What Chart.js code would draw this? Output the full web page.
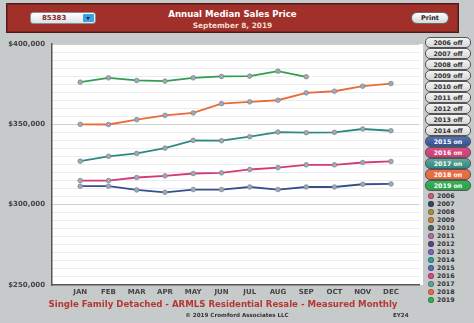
<!DOCTYPE html>
<html><head><meta charset="utf-8">
<script src="https://cdn.jsdelivr.net/npm/chart.js@4.4.0/dist/chart.umd.min.js"></script>
<style>
html,body{margin:0;padding:0;}
body{width:474px;height:323px;background:#c6cacb;position:relative;overflow:hidden;font-family:"DejaVu Sans",Verdana,sans-serif;}
#hdr{position:absolute;left:6px;top:3px;width:451px;height:28px;background:#a2302a;border:1px solid #4d1c18;box-shadow:inset 0 0 0 1px #7a2520;}
#t1{position:absolute;left:0;right:0;top:5px;text-align:center;color:#fff;font-weight:bold;font-size:8.6px;}
#t2{position:absolute;left:0;right:0;top:17px;text-align:center;color:#f6dcd4;font-weight:bold;font-size:7.4px;}
#sel{position:absolute;left:23px;top:8px;width:64px;height:10px;border-radius:3px;background:linear-gradient(#ffffff,#dde3ea);border:1px solid #8a8f96;}
#sel span{position:absolute;left:11px;top:0px;font-size:7px;font-weight:bold;color:#8b2a2a;line-height:10px;}
#arr{position:absolute;right:1px;top:1px;width:11px;height:8px;background:#3da0e0;border-radius:1px;}
#arr:after{content:"";position:absolute;left:3px;top:3px;border-left:2.5px solid transparent;border-right:2.5px solid transparent;border-top:3px solid #1a2a50;}
#prt{position:absolute;left:404px;top:8px;width:36px;height:10px;border-radius:6px;background:linear-gradient(#ffffff,#d8d8d8);border:1px solid #6a6a6a;text-align:center;font-size:6.5px;font-weight:bold;line-height:10px;color:#222;}
#plotbg{position:absolute;left:52px;top:44px;width:371px;height:241px;background:#fff;}
#cv{position:absolute;left:0;top:0;}
.btn{position:absolute;left:425px;width:44px;height:9px;border-radius:5px;border:1px solid #555;font-size:6.3px;font-weight:bold;line-height:9px;text-align:center;box-sizing:content-box;}
.off{background:linear-gradient(#f4f4f4,#d6d6d6);color:#333;}
.on{color:#fff;}
.yr{position:absolute;left:428px;font-size:6.3px;font-weight:bold;color:#333;line-height:8px;}
.yr i{display:inline-block;width:6px;height:6px;border-radius:50%;vertical-align:-1px;margin-right:3px;box-shadow:inset 0 0 0 1px rgba(0,0,0,0.25);}
#foot{position:absolute;left:0;width:446px;top:299px;text-align:center;color:#b5372e;font-weight:bold;font-size:8.6px;}
#copy{position:absolute;left:0;width:474px;top:312px;text-align:center;color:#333;font-weight:bold;font-size:5.6px;}
#ey{position:absolute;left:393px;top:312px;color:#333;font-weight:bold;font-size:5.6px;}
</style></head>
<body>
<div id="hdr">
  <div id="sel"><span>85383</span><div id="arr"></div></div>
  <div id="t1">Annual Median Sales Price</div>
  <div id="t2">September 8, 2019</div>
  <div id="prt">Print</div>
</div>
<div id="plotbg"></div>
<canvas id="cv" width="424" height="300"></canvas>
<div id="legend"></div>
<div id="foot">Single Family Detached - ARMLS Residential Resale - Measured Monthly</div>
<div id="copy">© 2019 Cromford Associates LLC</div>
<div id="ey">EY24</div>
<script>
const months = ['JAN','FEB','MAR','APR','MAY','JUN','JUL','AUG','SEP','OCT','NOV','DEC'];
const years = ['2006','2007','2008','2009','2010','2011','2012','2013','2014','2015','2016','2017','2018','2019'];
const yearColors = ['#c9607c','#34456a','#a3923f','#c7803e','#4c6a62','#b46ea4','#5a4a7c','#7b6cb4','#2fa390','#5372b6','#d44f86','#63a697','#e6704e','#33b255'];
const activeYears = ['2015','2016','2017','2018','2019'];
const s2015 = [311500,311500,309200,307700,309400,309400,311000,309400,311000,311000,312700,312900];
const s2016 = [315000,315000,316900,317900,319400,319800,321900,323100,324800,324800,326250,326900];
const s2017 = [327100,330100,331900,335200,340000,339800,342300,345200,344800,345000,347100,346000];
const s2018 = [350000,349900,352900,355600,357100,362900,364000,365000,369600,370600,373750,375400];
const s2019 = [376250,378950,377300,376900,378950,379800,380000,383100,379600];
const lineColors = {'2015':'#34508e','2016':'#d33a78','2017':'#2c8a80','2018':'#ea6a38','2019':'#2f9f4f'};
const yTickLabels = ['$250,000','$300,000','$350,000','$400,000'];

// legend buttons and year list
const lg = document.getElementById('legend');
years.forEach((y,i)=>{
  const b = document.createElement('div');
  const on = activeYears.includes(y);
  b.className = 'btn ' + (on ? 'on' : 'off');
  b.style.top = (37 + i*11) + 'px';
  if (on) b.style.background = 'linear-gradient(' + yearColors[i] + ',' + lineColors[y] + ')';
  b.textContent = y + (on ? ' on' : ' off');
  lg.appendChild(b);
});
years.forEach((y,i)=>{
  const d = document.createElement('div');
  d.className = 'yr';
  d.style.top = (192 + i*8) + 'px';
  d.innerHTML = '<i style="background:' + yearColors[i] + '"></i>' + y;
  lg.appendChild(d);
});

const toPts = arr => arr.map((v,i)=>({x:i+1,y:v}));
const series = [['2019',s2019],['2018',s2018],['2017',s2017],['2016',s2016],['2015',s2015]];
const datasets = series.map(([y,arr])=>({
  label:y, data:toPts(arr), borderColor:lineColors[y], borderWidth:1.8,
  pointRadius:2.3, pointBackgroundColor:'#a2a9b3', pointBorderColor:'#808893', pointBorderWidth:0.8,
  tension:0, fill:false
}));

new Chart(document.getElementById('cv'), {
  type:'line',
  data:{datasets},
  options:{
    responsive:false, animation:false,
    layout:{padding:{top:44,right:1,left:0,bottom:0}},
    plugins:{legend:{display:false},tooltip:{enabled:false}},
    scales:{
      x:{type:'linear',min:0,max:13,
        afterFit:s=>{s.height=15;},
        grid:{display:true,color:'rgba(0,0,0,0)',drawTicks:false},
        border:{display:true,color:'#555',width:1.5},
        ticks:{stepSize:1,autoSkip:false,maxRotation:0,padding:3,color:'#444',
          font:{family:'DejaVu Sans',weight:'bold',size:7},
          callback:v=>months[v-1]||''}},
      y:{type:'linear',min:250000,max:400000,
        afterFit:s=>{s.width=52;},
        grid:{drawTicks:false,lineWidth:1,
          color:c=>(c.tick && c.tick.value%50000===0)?'#cfcfcf':'#ececec'},
        border:{display:true,color:'#555',width:1.5},
        ticks:{stepSize:5000,autoSkip:false,padding:7,color:'#444',
          font:{family:'DejaVu Sans',weight:'bold',size:7},
          callback:v=>{const k=(v-250000)/50000; return Number.isInteger(k)?yTickLabels[k]:'';}}}
    }
  }
});
</script>
</body></html>
